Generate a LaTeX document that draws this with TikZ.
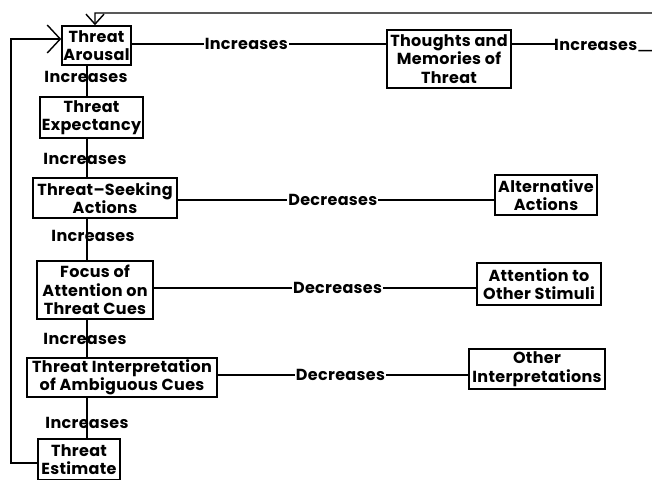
\documentclass[tikz,border=0pt]{standalone}
\usepackage{fontspec}
\setmainfont{Poppins}[LetterSpace=2]
\usetikzlibrary{arrows.meta}
\begin{document}
\begin{tikzpicture}[x=1pt,y=-1pt,
  txt/.style={font=\fontsize{16}{18.5}\selectfont\bfseries},
  box/.style={txt, draw, line width=1.6pt, inner sep=0pt, align=center},
  lbl/.style={txt, inner sep=1pt},
  lblw/.style={txt, inner sep=1pt, fill=white},
  conn/.style={line width=1.4pt},
  bigtip/.style={-{Straight Barb[length=13pt,width=28pt,line width=1.4pt]}},
  smalltip/.style={-{Straight Barb[length=10pt,width=18pt,line width=1.4pt]}}]
\useasboundingbox (0,0) rectangle (652,479);
\clip (0,0) rectangle (652,479);
\coordinate (cx) at (87,0);
% left column
\node[box, minimum width=69pt, minimum height=39pt] (arousal) at (96.5,45.5) {Threat\\Arousal};
\node[box, minimum width=103pt, minimum height=41pt] (expect) at (91.5,117.5) {Threat\\Expectancy};
\node[box, minimum width=144pt, minimum height=40pt] (seek) at (105,198) {Threat--Seeking\\Actions};
\node[box, minimum width=116pt, minimum height=58pt] (focus) at (95,290) {Focus of\\Attention on\\Threat Cues};
\node[box, minimum width=190pt, minimum height=39pt] (interp) at (122,377.5) {Threat Interpretation\\of Ambiguous Cues};
\node[box, minimum width=82pt, minimum height=40.5pt] (estimate) at (79,459.5) {Threat\\Estimate};
% right column
\node[box, minimum width=124pt, minimum height=58pt] (thoughts) at (449,59) {Thoughts and\\Memories of\\Threat};
\node[box, minimum width=102pt, minimum height=40pt] (altern) at (546,195) {Alternative\\Actions};
\node[box, minimum width=124pt, minimum height=42pt] (attn) at (539,284) {Attention to\\Other Stimuli};
\node[box, minimum width=136pt, minimum height=40pt] (other) at (537,369) {Other\\Interpretations};
% chain
\draw[conn] (arousal.south -| cx) -- (expect.north -| cx);
\node[lbl] (i1) at (86,77) {Increases};
\draw[conn] (expect.south -| cx) -- (seek.north -| cx);
\node[lbl] (i2) at (85,159) {Increases};
\draw[conn] (seek.south -| cx) -- (focus.north -| cx);
\node[lbl] (i3) at (93,236) {Increases};
\draw[conn] (focus.south -| cx) -- (interp.north -| cx);
\node[lbl] (i4) at (85,339) {Increases};
\draw[conn] (interp.south -| cx) -- (estimate.north -| cx);
\node[lbl] (i5) at (87,423) {Increases};
% horizontal
\coordinate (ya) at (0,44);
\draw[conn] (arousal.east |- ya) -- node[lblw, pos=0.45] (i6) {Increases} (thoughts.west |- ya);
\draw[conn] (seek.east |- 0,200) -- node[lblw, pos=0.49] (d1) {Decreases} (altern.west |- 0,200);
\draw[conn] (focus.east |- 0,288) -- node[lblw, pos=0.57] (d2) {Decreases} (attn.west |- 0,288);
\draw[conn] (interp.east |- 0,375) -- node[lblw, pos=0.49] (d3) {Decreases} (other.west |- 0,375);
% feedback from thoughts
\draw[conn] (thoughts.east |- ya) -- (556,44);
\node[lbl, anchor=west] (i7) at (553,45) {Increases};
\draw[conn, smalltip] (i7.base east) -- (700,51) -- (700,13) -- (95,13) -- (arousal.north -| 95,0);
% feedback from estimate
\draw[conn, bigtip] (estimate.west |- 0,463) -- (11,463) -- (11,39) -- (arousal.west |- 0,39);
\end{tikzpicture}
\end{document}
